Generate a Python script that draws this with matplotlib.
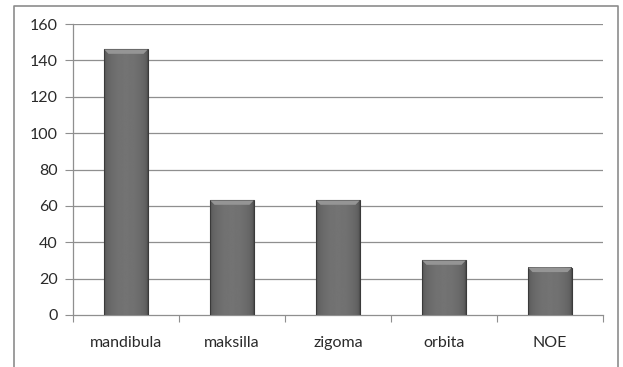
import numpy as np
import matplotlib
matplotlib.use("Agg")
import matplotlib.pyplot as plt
from matplotlib.patches import Rectangle, Polygon

categories = ["mandibula", "maksilla", "zigoma", "orbita", "NOE"]
counts = [146, 63, 63, 30, 26]
yticks = [0, 20, 40, 60, 80, 100, 120, 140, 160]

plt.rcParams["font.family"] = ["Lato", "DejaVu Sans"]

W, H = 623, 367
fig = plt.figure(figsize=(W / 100, H / 100), dpi=100)

# outer chart frame (bottom edge runs off the canvas)
frame = fig.add_axes([0, 0, 1, 1])
frame.set_xlim(0, W)
frame.set_ylim(H, 0)
frame.axis("off")
frame.plot([13.5, 13.5, 617.5, 617.5], [H + 5, 5.5, 5.5, H + 5],
           color="#8c8c8c", lw=1.2)

ax = fig.add_axes([73 / W, 1 - 315 / H, (603 - 73) / W, (315 - 24) / H])
ax.set_xlim(0, len(categories))
ax.set_ylim(0, 160)
ax.set_facecolor("none")

for y in yticks[1:]:
    ax.axhline(y, color="#8f8f8f", lw=0.9, zorder=0)

# horizontal shading across each bar: dark rim, lighter middle
u = np.linspace(-1, 1, 64)
shade = 0.30 + 0.15 * (1 - u ** 2) ** 0.4
shade = np.tile(shade, (2, 1))
bar_w = 0.41
for i, v in enumerate(counts):
    x0 = i + 0.5 - bar_w / 2
    ax.imshow(shade, cmap="gray", vmin=0, vmax=1, aspect="auto",
              extent=(x0, x0 + bar_w, 0, v), zorder=2, interpolation="bilinear")
    ax.add_patch(Rectangle((x0, 0), bar_w, v, fill=False,
                           edgecolor="#3a3a3a", lw=0.8, zorder=3))
    # bevelled cap
    cap = 2.4
    ax.add_patch(Polygon([(x0, v), (x0 + bar_w, v),
                          (x0 + bar_w - 0.04, v - cap), (x0 + 0.04, v - cap)],
                         closed=True, facecolor="#959595", edgecolor="none",
                         zorder=3))

ax.set_xlim(0, len(categories))
ax.set_ylim(0, 160)

ax.set_yticks(yticks)
ax.set_xticks(np.arange(len(categories) + 1))
ax.set_xticklabels([])
ax.set_xticks(np.arange(len(categories)) + 0.5, minor=True)
ax.set_xticklabels(categories, minor=True)
ax.tick_params(axis="x", which="minor", length=0, pad=15, labelsize=11.5,
               labelcolor="#2a2a2a")
ax.tick_params(axis="x", which="major", length=5, color="#8f8f8f", direction="out")
ax.tick_params(axis="y", length=6, color="#8f8f8f", labelsize=11.5,
               labelcolor="#2a2a2a", pad=5)

for side in ["top", "right"]:
    ax.spines[side].set_visible(False)
for side in ["left", "bottom"]:
    ax.spines[side].set_color("#8f8f8f")
    ax.spines[side].set_linewidth(0.9)

fig.savefig("out.png", dpi=100)
